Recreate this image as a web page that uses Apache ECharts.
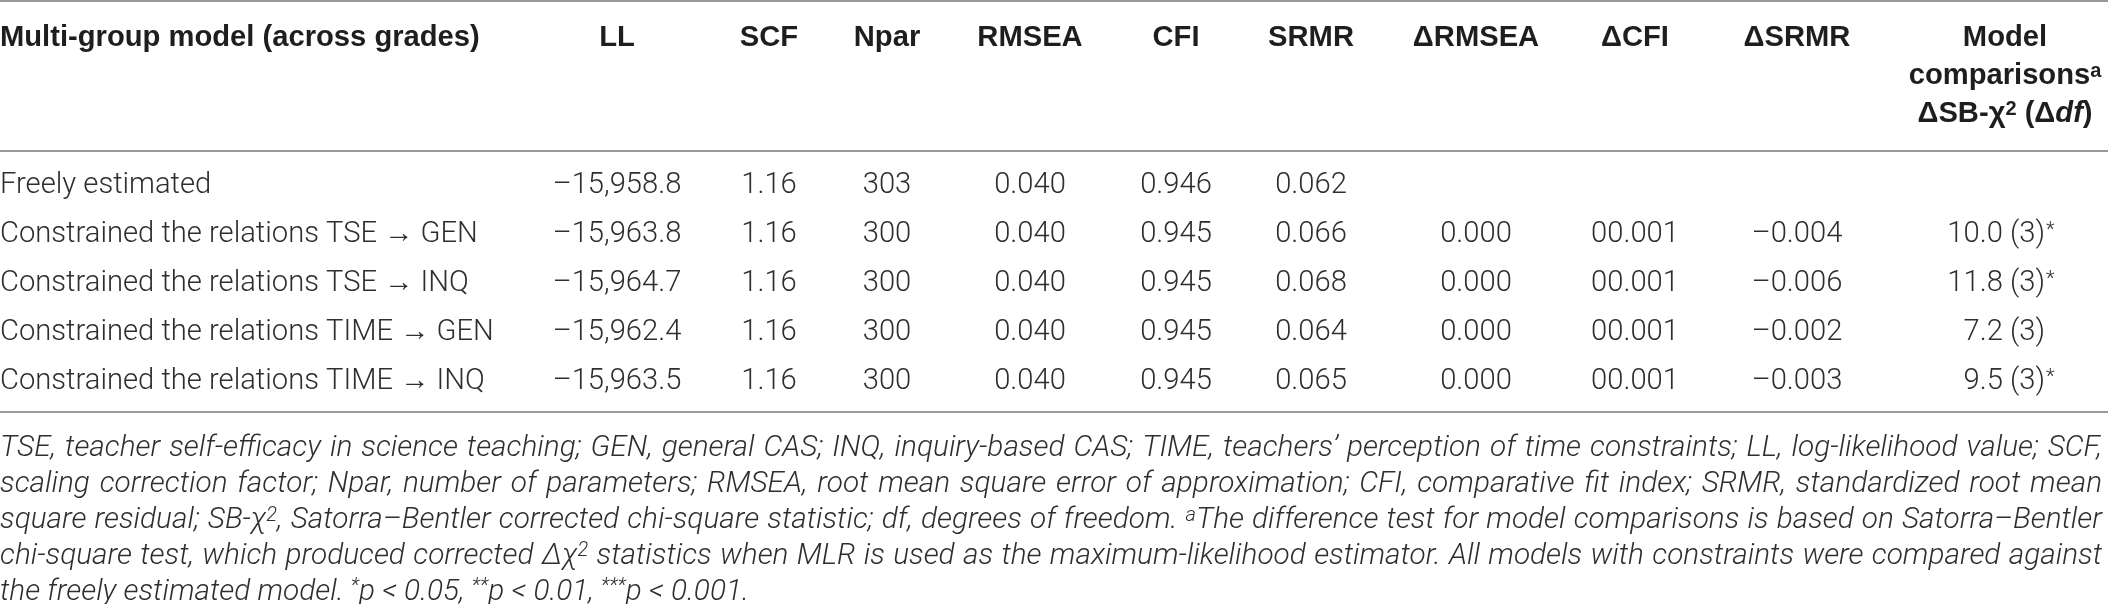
<!DOCTYPE html>
<html>
<head>
<meta charset="utf-8">
<title>Multi-group model comparisons</title>
<script src="https://cdn.jsdelivr.net/npm/echarts@6/dist/echarts.min.js"></script>
<style>
	html, body { margin: 0; padding: 0; background: #fff; }
	#main { width: 2108px; height: 604px; }
</style>
</head>
<body>
<div id="main"></div>
<script>
//   table rows
var rowLabels = [
	'Freely estimated',
	'Constrained the relations TSE → GEN',
	'Constrained the relations TSE → INQ',
	'Constrained the relations TIME → GEN',
	'Constrained the relations TIME → INQ'
];
//   columns, as printed
var ll = ['–15,958.8', '–15,963.8', '–15,964.7', '–15,962.4', '–15,963.5'];
var scf = ['1.16', '1.16', '1.16', '1.16', '1.16'];
var npar = ['303', '300', '300', '300', '300'];
var rmsea = ['0.040', '0.040', '0.040', '0.040', '0.040'];
var cfi = ['0.946', '0.945', '0.945', '0.945', '0.945'];
var srmr = ['0.062', '0.066', '0.068', '0.064', '0.065'];
var dRmsea = ['', '0.000', '0.000', '0.000', '0.000'];
var dCfi = ['', '00.001', '00.001', '00.001', '00.001'];
var dSrmr = ['', '–0.004', '–0.006', '–0.002', '–0.003'];
//   model comparisons  ΔSB-χ2 (Δdf)
var chiDiff = ['', '10.0', '11.8', '7.2', '9.5'];
var dfDiff = ['', '3', '3', '3', '3'];
var sig = ['', '*', '*', '', '*'];

var headers = ['LL', 'SCF', 'Npar', 'RMSEA', 'CFI', 'SRMR', 'ΔRMSEA', 'ΔCFI', 'ΔSRMR'];
var lastHeader = ['Model', 'comparisons{hs|a}', 'ΔSB-χ{hs|2} (Δ{hi|df})'];

var footLines = [
	'TSE, teacher self-efficacy in science teaching; GEN, general CAS; INQ, inquiry-based CAS; TIME, teachers’ perception of time constraints; LL, log-likelihood value; SCF,',
	'scaling correction factor; Npar, number of parameters; RMSEA, root mean square error of approximation; CFI, comparative fit index; SRMR, standardized root mean',
	'square residual; SB-χ{s|2}, Satorra–Bentler corrected chi-square statistic; df, degrees of freedom. {s|a}The difference test for model comparisons is based on Satorra–Bentler',
	'chi-square test, which produced corrected Δχ{s|2} statistics when MLR is used as the maximum-likelihood estimator. All models with constraints were compared against',
	'the freely estimated model. {s|*}p < 0.05, {s|**}p < 0.01, {s|***}p < 0.001.'
];

var columns = [ll, scf, npar, rmsea, cfi, srmr, dRmsea, dCfi, dSrmr];

// ======== layout
var colX = [617, 769, 887, 1030, 1176, 1311, 1476, 1635, 1797];
var lastColX = 2005;
var lastColRight = 2045;
var FONT = 'Roboto, "Liberation Sans", "DejaVu Sans", sans-serif';
var HEAD_FONT = '"Liberation Sans", Roboto, "DejaVu Sans", sans-serif';
var TEXT_COLOR = '#2e2e2e';
var HEAD_COLOR = '#1e1e1e';
var RULE_COLOR = '#9a9a9a';

//   measure a (rich) string
var textWidth = function (text, style) {
	var el = new echarts.graphic.Text({ style: Object.assign({ text: text }, style) });
	return el.getBoundingRect().width;
};

var bodyStyle = function (size) {
	return { fontFamily: FONT, fontWeight: 300, fontSize: size };
};
var headStyle = function (size) {
	return { fontFamily: HEAD_FONT, fontWeight: 'bold', fontSize: size };
};
var footStyle = function (size) {
	return {
		fontFamily: FONT, fontWeight: 300, fontStyle: 'italic', fontSize: size,
		rich: {
			s: { fontFamily: FONT, fontWeight: 300, fontStyle: 'italic', fontSize: Math.round(size * 0.68), verticalAlign: 'top' }
		}
	};
};

//   fit font sizes to the widths measured on the reference
var bodySize = 100 * 478 / textWidth(rowLabels[1], bodyStyle(100));
var headSize = 100 * 480 / textWidth('Multi-group model (across grades)', headStyle(100));
//   footnote: widest justified line gets a little slack
var widest = 0;
footLines.slice(0, 4).forEach(function (line) {
	widest = Math.max(widest, textWidth(line, footStyle(100)));
});
var footSize = 100 * 2085 / widest;

var headRich = {
	hs: { fontFamily: HEAD_FONT, fontWeight: 'bold', fontSize: Math.round(headSize * 0.7), verticalAlign: 'top' },
	hi: { fontFamily: HEAD_FONT, fontWeight: 'bold', fontStyle: 'italic', fontSize: headSize }
};

var chart = echarts.init(document.getElementById('main'), null, { renderer: 'canvas' });

// ======== graphic: rules, headers, footnote
var graphics = [];
[1, 151, 412].forEach(function (y) {
	graphics.push({
		type: 'line',
		shape: { x1: 0, y1: y, x2: 2108, y2: y },
		style: { stroke: RULE_COLOR, lineWidth: 2 }
	});
});

var headY = 38;
graphics.push({
	type: 'text', x: 0, y: headY,
	style: Object.assign({ text: 'Multi-group model (across grades)', fill: HEAD_COLOR, align: 'left', verticalAlign: 'middle' }, headStyle(headSize))
});
headers.forEach(function (h, i) {
	graphics.push({
		type: 'text', x: colX[i], y: headY,
		style: Object.assign({ text: h, fill: HEAD_COLOR, align: 'center', verticalAlign: 'middle' }, headStyle(headSize))
	});
});
lastHeader.forEach(function (h, i) {
	graphics.push({
		type: 'text', x: lastColX, y: headY + i * 38,
		style: Object.assign({ text: h, fill: HEAD_COLOR, align: 'center', verticalAlign: 'middle', rich: headRich }, headStyle(headSize))
	});
});

//   footnote, justified lines
var footTop = 449;
var footStep = 35.8;
var footWidth = 2102;
footLines.forEach(function (line, li) {
	var y = footTop + li * footStep;
	var st = footStyle(footSize);
	if (li === footLines.length - 1) {
		graphics.push({
			type: 'text', x: 0, y: y,
			style: Object.assign({ text: line, fill: TEXT_COLOR, align: 'left', verticalAlign: 'middle' }, st)
		});
		return;
	}
	var words = line.split(' ');
	var widths = words.map(function (w) { return textWidth(w, st); });
	var total = widths.reduce(function (a, b) { return a + b; }, 0);
	var gap = (footWidth - total) / (words.length - 1);
	var x = 0;
	words.forEach(function (w, wi) {
		graphics.push({
			type: 'text', x: x, y: y,
			style: Object.assign({ text: w, fill: TEXT_COLOR, align: 'left', verticalAlign: 'middle' }, footStyle(footSize))
		});
		x += widths[wi] + gap;
	});
});

// ======== series: one custom series per column
var series = [];

series.push({
	type: 'custom',
	name: 'model',
	encode: { x: 0, y: 1 },
	data: rowLabels.map(function (r, i) { return [0, i]; }),
	renderItem: function (params, api) {
		var p = api.coord([api.value(0), api.value(1)]);
		return {
			type: 'text', x: p[0], y: p[1],
			style: Object.assign({ text: rowLabels[params.dataIndex], fill: TEXT_COLOR, align: 'left', verticalAlign: 'middle' }, bodyStyle(bodySize))
		};
	}
});

columns.forEach(function (col, c) {
	series.push({
		type: 'custom',
		name: headers[c],
		encode: { x: 0, y: 1 },
		data: col.map(function (v, i) { return [colX[c], i]; }),
		renderItem: function (params, api) {
			var p = api.coord([api.value(0), api.value(1)]);
			return {
				type: 'text', x: p[0], y: p[1],
				style: Object.assign({ text: col[params.dataIndex], fill: TEXT_COLOR, align: 'center', verticalAlign: 'middle' }, bodyStyle(bodySize))
			};
		}
	});
});

series.push({
	type: 'custom',
	name: 'comparison',
	encode: { x: 0, y: 1 },
	data: chiDiff.map(function (v, i) { return [lastColRight, i]; }),
	renderItem: function (params, api) {
		var i = params.dataIndex;
		if (!chiDiff[i]) {
			return null;
		}
		var p = api.coord([api.value(0), api.value(1)]);
		return {
			type: 'group',
			children: [{
				type: 'text', x: p[0], y: p[1],
				style: Object.assign({ text: chiDiff[i] + ' (' + dfDiff[i] + ')', fill: TEXT_COLOR, align: 'right', verticalAlign: 'middle' }, bodyStyle(bodySize))
			}, {
				type: 'text', x: p[0] + 1, y: p[1] - bodySize * 0.45,
				style: Object.assign({ text: sig[i], fill: TEXT_COLOR, align: 'left', verticalAlign: 'top' }, bodyStyle(Math.round(bodySize * 0.7)))
			}]
		};
	}
});

var option = {
	animation: false,
	backgroundColor: '#fff',
	grid: { left: 0, right: 0, top: 161, height: 245 },
	xAxis: { type: 'value', min: 0, max: 2108, show: false },
	yAxis: { type: 'category', data: rowLabels, inverse: true, show: false },
	graphic: graphics,
	series: series
};

chart.setOption(option);
</script>
</body>
</html>
